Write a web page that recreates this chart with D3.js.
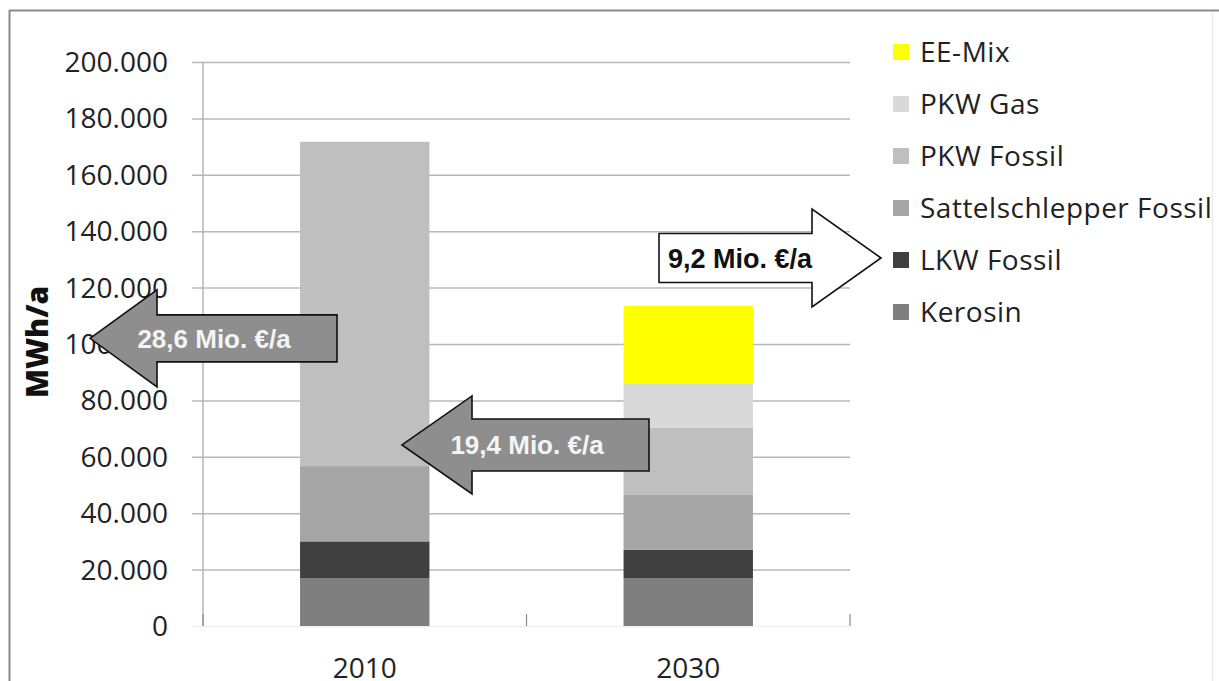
<!DOCTYPE html>
<html>
<head>
<meta charset="utf-8">
<script src="https://cdn.jsdelivr.net/npm/d3@7"></script>
<style>
  html, body { margin: 0; padding: 0; background: #fff; }
  svg { display: block; }
</style>
</head>
<body>
<svg id="chart" width="1219" height="681"></svg>
<script>
// Years on the x axis
const years = ["2010", "2030"];

// Series, bottom to top in the stack
const seriesNames = ["Kerosin", "LKW Fossil", "Sattelschlepper Fossil", "PKW Fossil", "PKW Gas", "EE-Mix"];
const seriesColors = ["#7f7f7f", "#404040", "#a5a5a5", "#bfbfbf", "#d9d9d9", "#ffff00"];

// Energy demand in MWh/a per series, one value per year
const kerosin       = [17000, 17000];
const lkwFossil     = [13000, 10000];
const sattelFossil  = [26700, 19500];
const pkwFossil     = [115000, 23800];
const pkwGas        = [0, 15500];
const eeMix         = [0, 27700];

// Y axis ticks
const yTicks = [0, 20000, 40000, 60000, 80000, 100000, 120000, 140000, 160000, 180000, 200000];

// Cost arrows: label and vertical centre (MWh/a)
const arrowLabels = ["28,6 Mio. €/a", "19,4 Mio. €/a", "9,2 Mio. €/a"];
const arrowCenters = [102000, 64200, 130500];

const values = [kerosin, lkwFossil, sattelFossil, pkwFossil, pkwGas, eeMix];
const rows = years.map((yr, i) => {
  const r = { year: yr };
  seriesNames.forEach((s, k) => { r[s] = values[k][i]; });
  return r;
});

const svg = d3.select("#chart");
const plot = { left: 203, right: 850, top: 62, bottom: 626 };

const x = d3.scaleBand().domain(years).range([plot.left, plot.right])
  .paddingInner(0.6).paddingOuter(0.3);
const y = d3.scaleLinear().domain([0, 200000]).range([plot.bottom, plot.top]);
const color = d3.scaleOrdinal().domain(seriesNames).range(seriesColors);

// Outer frame
svg.append("line").attr("x1", 9.5).attr("x2", 1219).attr("y1", 10.5).attr("y2", 10.5)
  .attr("stroke", "#8a8a8a").attr("stroke-width", 2);
svg.append("line").attr("x1", 9.5).attr("x2", 9.5).attr("y1", 10).attr("y2", 681)
  .attr("stroke", "#8a8a8a").attr("stroke-width", 2);
svg.append("line").attr("x1", 1212.5).attr("x2", 1212.5).attr("y1", 12).attr("y2", 681)
  .attr("stroke", "#ececec").attr("stroke-width", 1.5);

// Gridlines with outside tick marks
const yAxis = d3.axisLeft(y).tickValues(yTicks)
  .tickSize(-(plot.right - plot.left)).tickFormat("");
const gGrid = svg.append("g").attr("transform", `translate(${plot.left},0)`).call(yAxis);
gGrid.select(".domain").remove();
gGrid.selectAll(".tick line").attr("stroke", "#b8b8b8").attr("stroke-width", 1.5)
  .attr("x1", -11);
gGrid.selectAll(".tick").filter(d => d === 0).select("line").attr("stroke", "#f0f0f0");

// Tick labels
svg.append("g").selectAll("text").data(yTicks).join("text")
  .attr("x", 168).attr("y", d => y(d))
  .attr("dy", "0.36em")
  .attr("text-anchor", "end")
  .attr("font-family", "'Open Sans', sans-serif")
  .attr("font-size", 28)
  .attr("fill", "#222")
  .text(d => d3.format(",")(d).replace(/,/g, "."));

// Vertical axis line
svg.append("line").attr("x1", plot.left).attr("x2", plot.left)
  .attr("y1", y(200000)).attr("y2", y(0))
  .attr("stroke", "#b5b5b5").attr("stroke-width", 1.5);

// Category tick marks on the baseline
const catTicks = [plot.left, (x("2010") + x.bandwidth() + x("2030")) / 2, plot.right];
svg.append("g").selectAll("line").data(catTicks).join("line")
  .attr("x1", d => d).attr("x2", d => d)
  .attr("y1", y(0) - 12).attr("y2", y(0))
  .attr("stroke", "#8a8a8a").attr("stroke-width", 1.2);

// Stacked bars
const stacked = d3.stack().keys(seriesNames)(rows);
svg.append("g").selectAll("g").data(stacked).join("g")
  .attr("fill", d => color(d.key))
  .selectAll("rect").data(d => d).join("rect")
  .attr("x", d => x(d.data.year))
  .attr("width", x.bandwidth())
  .attr("y", d => y(d[1]))
  .attr("height", d => Math.max(0, y(d[0]) - y(d[1])));

// X labels
svg.append("g").selectAll("text").data(years).join("text")
  .attr("x", d => x(d) + x.bandwidth() / 2)
  .attr("y", 678)
  .attr("text-anchor", "middle")
  .attr("font-family", "'Open Sans', sans-serif")
  .attr("font-size", 28)
  .attr("fill", "#222")
  .text(d => d);

// Y axis title
svg.append("text")
  .attr("transform", `translate(48,${y(100000) - 2}) rotate(-90)`)
  .attr("text-anchor", "middle")
  .attr("font-family", "'Open Sans', sans-serif")
  .attr("font-weight", "800")
  .attr("font-size", 30)
  .attr("fill", "#111")
  .text("MWh/a");

// Block arrow path with its tip at (tx, cy)
function arrowPath(tx, cy, headLen, headHalf, bodyHalf, bodyEnd) {
  const dir = bodyEnd > tx ? 1 : -1;
  const hb = tx + dir * headLen;
  return `M${tx},${cy} L${hb},${cy - headHalf} L${hb},${cy - bodyHalf} L${bodyEnd},${cy - bodyHalf}` +
    ` L${bodyEnd},${cy + bodyHalf} L${hb},${cy + bodyHalf} L${hb},${cy + headHalf} Z`;
}

const arrows = [
  { tip: 90,  head: 67, headHalf: 48.5, bodyHalf: 23.5, end: 337, fill: "#8e8e8e", text: "#f4f4f4", tx: 214, size: 26 },
  { tip: 402, head: 70, headHalf: 49,   bodyHalf: 26,   end: 649, fill: "#8e8e8e", text: "#f4f4f4", tx: 527, size: 26 },
  { tip: 881, head: 69, headHalf: 49,   bodyHalf: 24.5, end: 659, fill: "#ffffff", text: "#111",    tx: 740, size: 27 }
];

const gArrows = svg.append("g");
arrows.forEach((a, i) => {
  const cy = y(arrowCenters[i]);
  gArrows.append("path")
    .attr("d", arrowPath(a.tip, cy, a.head, a.headHalf, a.bodyHalf, a.end))
    .attr("fill", a.fill).attr("stroke", "#111").attr("stroke-width", 1.6)
    .attr("stroke-linejoin", "miter");
  gArrows.append("text")
    .attr("x", a.tx).attr("y", cy).attr("dy", "0.36em")
    .attr("text-anchor", "middle")
    .attr("font-family", "'Liberation Sans', Arial, sans-serif")
    .attr("font-weight", "bold")
    .attr("font-size", a.size)
    .attr("fill", a.text)
    .text(arrowLabels[i]);
});

// Legend, top entry first
const legendOrder = seriesNames.slice().reverse();
const gLegend = svg.append("g");
const leg = gLegend.selectAll("g").data(legendOrder).join("g")
  .attr("transform", (d, i) => `translate(893,${52 + i * 52})`);
leg.append("rect").attr("x", 0).attr("y", -8).attr("width", 16).attr("height", 16)
  .attr("fill", d => color(d));
leg.append("text").attr("x", 27).attr("y", 0).attr("dy", "0.36em")
  .attr("font-family", "'Open Sans', sans-serif")
  .attr("font-size", 28)
  .attr("letter-spacing", 0.5)
  .attr("fill", "#222")
  .text(d => d);
</script>
</body>
</html>
